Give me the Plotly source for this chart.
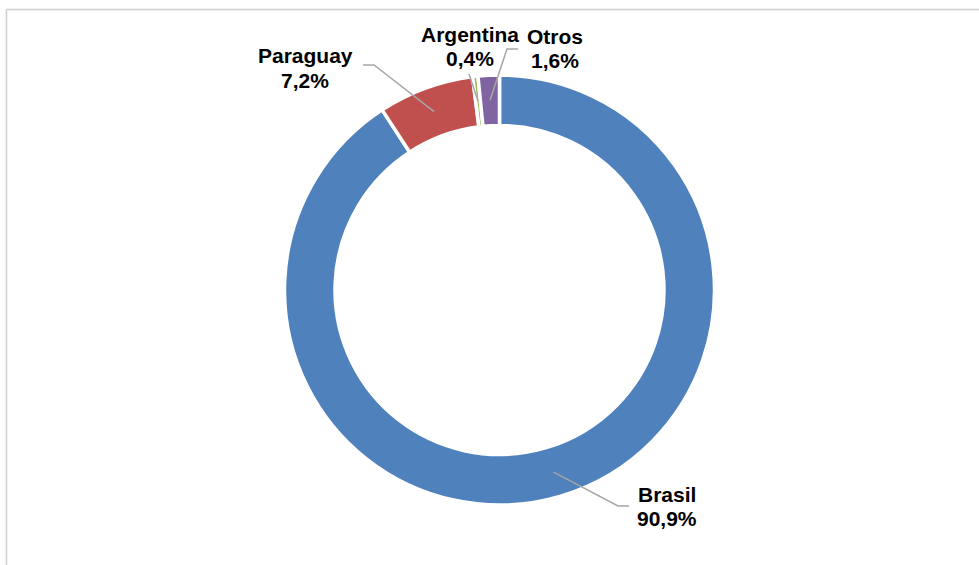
import math
import plotly.graph_objects as go

# Data
paises = ["Brasil", "Paraguay", "Argentina", "Otros"]
participacion = [90.9, 7.2, 0.4, 1.6]
colores = ["#4F81BD", "#C0504D", "#9BBB59", "#8064A2"]

W, H = 979, 565
cx, cy, radio = 499.5, 290.0, 215.0
hueco = 0.765

# label layout (pixel positions): elbow, end of leader, text centre
codos = {
    "Brasil": [(618, 506), (629, 506)],
    "Paraguay": [(374, 65), (363, 65)],
    "Argentina": [(469, 74)],
    "Otros": [(507, 49), (518, 49)],
}
textos_xy = {
    "Brasil": (667, 494, 518),
    "Paraguay": (305, 55, 80),
    "Argentina": (470, 34, 58),
    "Otros": (555, 36, 60),
}


def fmt(v):
    return f"{v:.1f}".replace(".", ",") + "%"


fig = go.Figure()

fig.add_trace(go.Pie(
    labels=paises, values=participacion,
    sort=False, direction="clockwise", rotation=0,
    hole=hueco,
    marker=dict(colors=colores, line=dict(color="white", width=3.5)),
    textinfo="none", hoverinfo="label+percent",
    showlegend=False,
    domain=dict(x=[(cx - radio) / W, (cx + radio) / W],
                y=[(H - cy - radio) / H, (H - cy + radio) / H]),
))

# leader lines starting in the ring at each slice's mid angle (drawn as shapes so they sit over the ring)
formas = [
    dict(type="line", xref="x", yref="y", x0=6.5, y0=9.5, x1=W + 5, y1=9.5,
         line=dict(color="#D0D0D0", width=1.5), layer="below"),
    dict(type="line", xref="x", yref="y", x0=6.5, y0=9.5, x1=6.5, y1=H + 5,
         line=dict(color="#D0D0D0", width=1.5), layer="below"),
]
total = sum(participacion)
acum = 0.0
r_ini = 190.0
for pais, v in zip(paises, participacion):
    medio = (acum + v / 2) / total * 2 * math.pi
    acum += v
    x0 = cx + r_ini * math.sin(medio)
    y0 = cy - r_ini * math.cos(medio)
    ruta = f"M {x0:.2f},{y0:.2f}" + "".join(f" L {px},{py}" for px, py in codos[pais])
    formas.append(dict(type="path", xref="x", yref="y", path=ruta,
                       line=dict(color="#A6A6A6", width=1.5), layer="above"))

# invisible trace so the overlay axes exist
fig.add_trace(go.Scatter(x=[0, W], y=[0, H], mode="markers", marker=dict(opacity=0),
                         hoverinfo="skip", showlegend=False))

fuente = dict(family="Liberation Sans, Arial, sans-serif", size=21, color="black")
anotaciones = []
for pais, v in zip(paises, participacion):
    tx, ty1, ty2 = textos_xy[pais]
    anotaciones.append(dict(x=tx, y=ty1, xref="x", yref="y", text=f"<b>{pais}</b>",
                            showarrow=False, font=fuente, xanchor="center", yanchor="middle"))
    anotaciones.append(dict(x=tx, y=ty2, xref="x", yref="y", text=f"<b>{fmt(v)}</b>",
                            showarrow=False, font=fuente, xanchor="center", yanchor="middle"))

fig.update_layout(
    width=W, height=H,
    margin=dict(l=0, r=0, t=0, b=0),
    paper_bgcolor="white", plot_bgcolor="rgba(0,0,0,0)",
    xaxis=dict(range=[0, W], visible=False, domain=[0, 1], fixedrange=True),
    yaxis=dict(range=[H, 0], visible=False, domain=[0, 1], fixedrange=True),
    annotations=anotaciones,
    shapes=formas,
)

# the page body has a default 8px margin; drop it so the figure sits at 0,0
fig.write_html("out.html", config={"displayModeBar": False},
               post_script="document.body.style.margin='0px';")
